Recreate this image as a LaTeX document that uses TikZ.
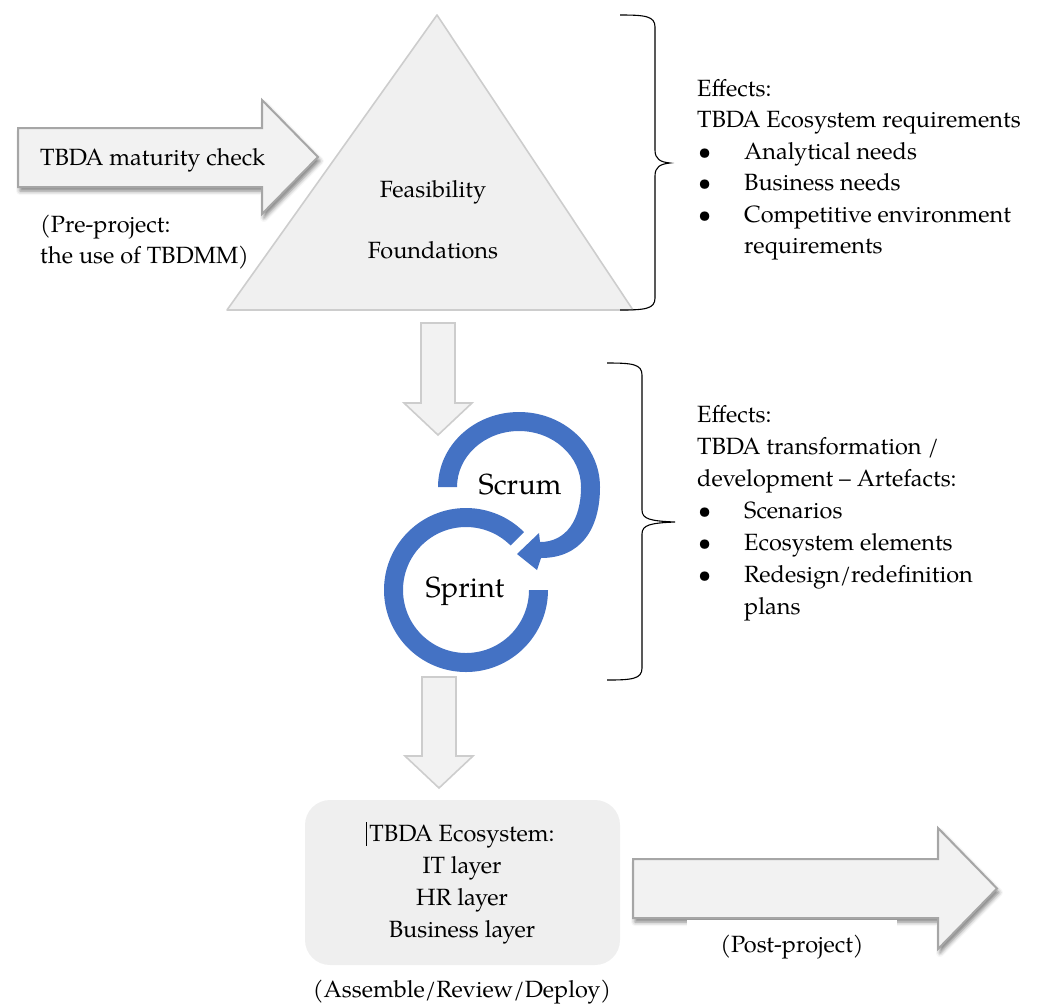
\documentclass[tikz,border=0pt]{standalone}
\usepackage{fontspec}
\setmainfont{TeX Gyre Pagella}
\usetikzlibrary{calc,shadows.blur}

\definecolor{arrowfill}{HTML}{F2F2F2}
\definecolor{arrowedge}{HTML}{A6A6A6}
\definecolor{softedge}{HTML}{CDCDCD}
\definecolor{trifill}{HTML}{F0F0F0}
\definecolor{boxfill}{HTML}{EFEFEF}
\definecolor{cycleblue}{HTML}{4472C4}

\begin{document}
\begin{tikzpicture}[x=1pt,y=-1pt,
  txt/.style={font=\fontsize{23.5}{31.7}\selectfont, inner sep=0pt},
  cyc/.style={font=\fontsize{29}{34}\selectfont, inner sep=0pt, anchor=base},
  bigarrow/.style={fill=arrowfill, draw=arrowedge, line width=2pt, line join=miter,
    blur shadow={shadow xshift=2pt, shadow yshift=-4pt, shadow blur radius=4pt, shadow opacity=50}},
  downarrow/.style={fill=arrowfill, draw=softedge, line width=1.6pt, line join=miter},
  brace/.style={draw=black, line width=1.1pt},
  ringfill/.style={fill=cycleblue},
]
\useasboundingbox (0,0) rectangle (1040,1005);

% ---- pre-project: maturity check arrow ----
\path[bigarrow] (18,128) -- (262,128) -- (262,100) -- (318,157) -- (262,214)
  -- (262,187) -- (18,187) -- cycle;
\node[txt, anchor=base west] (maturity) at (40,165) {TBDA maturity check};
\node[txt, anchor=base west] (pre1) at (40,232) {(Pre-project:};
\node[txt, anchor=base west] (pre2) at (40,263.5) {the use of TBDMM)};

% ---- feasibility / foundations triangle ----
\path[fill=trifill, draw=softedge, line width=1.6pt, line join=round]
  (437,15) -- (633,310) -- (227,310) -- cycle;
\node[txt, anchor=base] (feas) at (433,197) {Feasibility};
\node[txt, anchor=base] (found) at (433,258) {Foundations};

% ---- first brace and its effects ----
\draw[brace] (620,15) .. controls (645,15) and (655,16) .. (655,27) -- (655,150)
  .. controls (655,159) and (660,162) .. (670,163)
  .. controls (660,164) and (655,167) .. (655,176) -- (655,298)
  .. controls (655,309) and (645,310) .. (620,310);

\node[txt, anchor=base west] (e1a) at (697,96) {Effects:};
\node[txt, anchor=base west] (e1b) at (697,127.5) {TBDA Ecosystem requirements};
\node[txt, anchor=base west] (b1a) at (698,159) {\textbullet};
\node[txt, anchor=base west] (e1c) at (744,159) {Analytical needs};
\node[txt, anchor=base west] (b1b) at (698,190.5) {\textbullet};
\node[txt, anchor=base west] (e1d) at (744,190.5) {Business needs};
\node[txt, anchor=base west] (b1c) at (698,222) {\textbullet};
\node[txt, anchor=base west] (e1e) at (744,222) {Competitive environment};
\node[txt, anchor=base west] (e1f) at (744,253.5) {requirements};

% ---- block arrow down to the scrum cycle ----
\path[downarrow] (421,323) -- (455,323) -- (455,403) -- (472,403) -- (438,435)
  -- (404,403) -- (421,403) -- cycle;

% ---- scrum / sprint cycle ----
\coordinate (c2) at (466,590);
% upper ring, curving round to its arrowhead
\fill[ringfill] (438,487) arc[start angle=180, end angle=360, x radius=81, y radius=75]
  .. controls (600,530) and (580,558) .. (541,558)
  -- (537,570) -- (517,554) -- (539,533) -- (540,542)
  .. controls (566,542) and (581,520) .. (581,487)
  arc[start angle=360, end angle=180, x radius=62, y radius=56] -- cycle;
% lower ring
\fill[ringfill] ($(c2)+(0:82)$) arc[start angle=0, end angle=315, radius=82]
  -- ($(c2)+(315:63)$) arc[start angle=315, end angle=0, radius=63] -- cycle;
\node[cyc] (scrum) at (520,494) {Scrum};
\node[cyc] (sprint) at (465,597) {Sprint};

% ---- second brace and its effects ----
\draw[brace] (607,363) .. controls (632,363) and (642,364) .. (642,375) -- (642,510)
  .. controls (642,519) and (650,521) .. (675,522)
  .. controls (650,523) and (642,525) .. (642,534) -- (642,668)
  .. controls (642,679) and (632,680) .. (607,680);

\node[txt, anchor=base west] (e2a) at (697,422) {Effects:};
\node[txt, anchor=base west] (e2b) at (697,454) {TBDA transformation /};
\node[txt, anchor=base west] (e2c) at (697,486) {development – Artefacts:};
\node[txt, anchor=base west] (b2a) at (698,518) {\textbullet};
\node[txt, anchor=base west] (e2d) at (744,518) {Scenarios};
\node[txt, anchor=base west] (b2b) at (698,550) {\textbullet};
\node[txt, anchor=base west] (e2e) at (744,550) {Ecosystem elements};
\node[txt, anchor=base west] (b2c) at (698,582) {\textbullet};
\node[txt, anchor=base west] (e2f) at (744,582) {Redesign/redefinition};
\node[txt, anchor=base west] (e2g) at (744,614) {plans};

% ---- block arrow down to the ecosystem ----
\path[downarrow] (422,677) -- (456,677) -- (456,756) -- (473,756) -- (439,788)
  -- (405,756) -- (422,756) -- cycle;

% ---- TBDA ecosystem box ----
\node[fill=boxfill, rounded corners=25pt, minimum width=315pt, minimum height=165pt,
  inner sep=0pt] (eco) at (462.5,882.5) {};
\draw[line width=0.8pt] (366.5,822) -- (366.5,846);
\node[txt, anchor=base] (eco1) at (462,841) {TBDA Ecosystem:};
\node[txt, anchor=base] (eco2) at (462,873) {IT layer};
\node[txt, anchor=base] (eco3) at (462,905) {HR layer};
\node[txt, anchor=base] (eco4) at (462,937) {Business layer};
\node[txt, anchor=base] (deploy) at (462,997) {(Assemble/Review/Deploy)};

% ---- post-project arrow ----
\path[bigarrow] (633,859) -- (938,859) -- (938,828) -- (997,888.5) -- (938,949)
  -- (938,918) -- (633,918) -- cycle;
\node[txt, anchor=base, fill=white, inner xsep=33pt, text height=32pt, text depth=8pt]
  (post) at (792,952) {(Post-project)};
\end{tikzpicture}
\end{document}
